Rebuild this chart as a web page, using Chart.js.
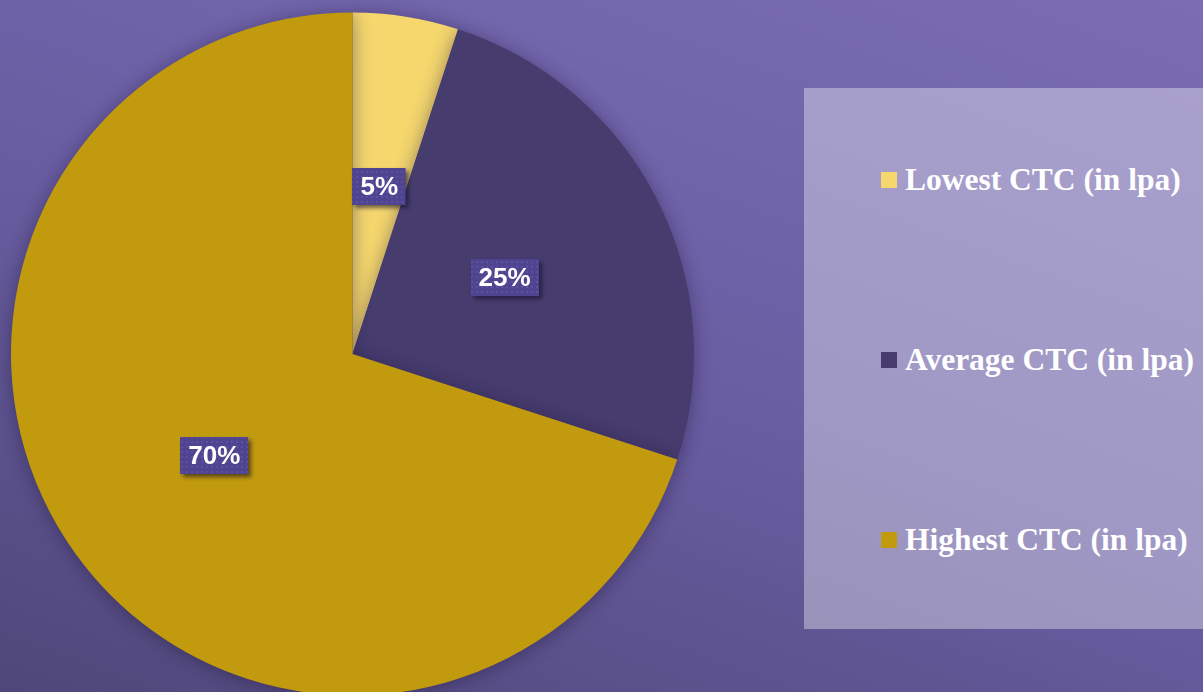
<!DOCTYPE html>
<html>
<head>
<meta charset="utf-8">
<script src="https://cdn.jsdelivr.net/npm/chart.js@4.4.1/dist/chart.umd.min.js"></script>
<style>
  html, body { margin: 0; padding: 0; width: 1203px; height: 692px; overflow: hidden; }
  body { background: linear-gradient(200deg, #7a6db4 0%, #6a5ea3 50%, #4f4779 100%); position: relative; font-family: 'Liberation Sans', Arial, sans-serif; }
  #wrap { position: absolute; left: 0; top: 0; width: 720px; height: 720px; }
  #legend { position: absolute; left: 804px; top: 88px; width: 420px; height: 541px; background: rgba(255,255,255,0.36); }
  .item { position: absolute; left: 77px; height: 36px; display: flex; align-items: center; color: #fff;
          font-family: 'Liberation Serif', 'Times New Roman', serif; font-weight: bold; font-size: 31.5px; white-space: nowrap; }
  .item i { display: inline-block; width: 16px; height: 16px; margin-right: 8px; }
</style>
</head>
<body>
<div id="wrap"><canvas id="pieChart"></canvas></div>
<div id="legend"></div>
<script>
const labels = ['Lowest CTC (in lpa)', 'Average CTC (in lpa)', 'Highest CTC (in lpa)'];
const values = [5, 25, 70];
const colors = ['#f5d76e', '#463c6e', '#c19a0e'];

// legend box on the right
const legendEl = document.getElementById('legend');
labels.forEach((l, i) => {
  const d = document.createElement('div');
  d.className = 'item';
  d.style.top = (74 + i * 180) + 'px';
  d.innerHTML = '<i style="background:' + colors[i] + '"></i>' + l;
  legendEl.appendChild(d);
});

function dotPattern(ctx) {
  const c = document.createElement('canvas');
  c.width = 5; c.height = 5;
  const p = c.getContext('2d');
  p.fillStyle = '#4e4490';
  p.fillRect(0, 0, 5, 5);
  p.fillStyle = '#5b51a0';
  p.fillRect(1, 1, 2, 2);
  return ctx.createPattern(c, 'repeat');
}

const pieShadow = {
  id: 'pieShadow',
  beforeDatasetDraw(chart) {
    const ctx = chart.ctx;
    ctx.save();
    ctx.shadowColor = 'rgba(30,20,60,0.45)';
    ctx.shadowBlur = 18;
    ctx.shadowOffsetX = 0;
    ctx.shadowOffsetY = 2;
  },
  afterDatasetDraw(chart) { chart.ctx.restore(); },
};

const boxLabels = {
  id: 'boxLabels',
  afterDatasetsDraw(chart) {
    const ctx = chart.ctx;
    const pat = dotPattern(ctx);
    chart.getDatasetMeta(0).data.forEach((arc, i) => {
      const pos = arc.tooltipPosition();
      const txt = values[i] + '%';
      ctx.save();
      ctx.font = 'bold 26px "Liberation Sans", Arial, sans-serif';
      const w = ctx.measureText(txt).width + 16;
      const h = 37;
      const x = Math.round(pos.x - w / 2), y = Math.round(pos.y - h / 2) + 1;
      ctx.shadowColor = 'rgba(20,15,40,0.6)';
      ctx.shadowBlur = 4;
      ctx.shadowOffsetX = 3;
      ctx.shadowOffsetY = 3;
      ctx.fillStyle = pat;
      ctx.fillRect(x, y, w, h);
      ctx.shadowColor = 'transparent';
      ctx.fillStyle = '#ffffff';
      ctx.textAlign = 'center';
      ctx.textBaseline = 'middle';
      ctx.fillText(txt, pos.x, y + h / 2 + 1);
      ctx.restore();
    });
  },
};

new Chart(document.getElementById('pieChart').getContext('2d'), {
  type: 'pie',
  data: {
    labels: labels,
    datasets: [{ data: values, backgroundColor: colors, borderWidth: 0 }],
  },
  options: {
    responsive: true, maintainAspectRatio: false, animation: false,
    layout: { padding: { left: 11, top: 12, right: 26, bottom: 24 } },
    plugins: { legend: { display: false }, tooltip: { enabled: false } },
  },
  plugins: [pieShadow, boxLabels],
});
</script>
</body>
</html>
